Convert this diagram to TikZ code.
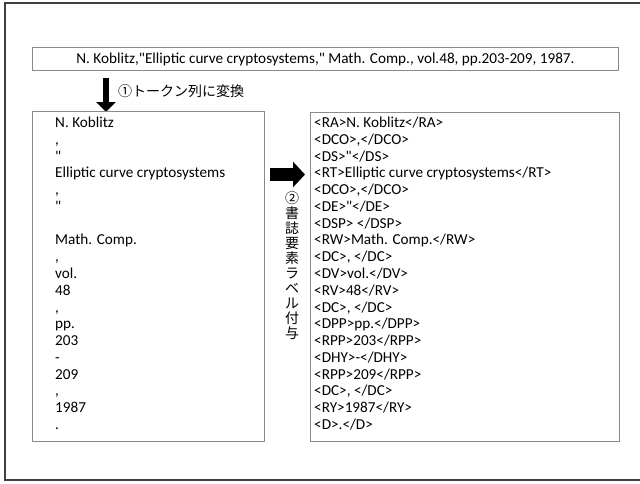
\documentclass[tikz,border=0pt]{standalone}
\usepackage{fontspec}
\setmainfont{Carlito}
\newfontfamily\carlito{Carlito}
\newfontfamily\jpfont{Noto Sans CJK JP}
\usetikzlibrary{arrows.meta}
\definecolor{boxgray}{HTML}{8A8A8A}
\definecolor{framegray}{HTML}{404040}
\begin{document}
\begin{tikzpicture}[x=1pt,y=-1pt,
  boxline/.style={draw=boxgray,line width=0.9pt},
  txt/.style={anchor=base west,inner sep=0pt,font=\carlito\fontsize{15.2}{17}\selectfont},
  jp/.style={inner sep=0pt,font=\jpfont\fontsize{14}{15}\selectfont},
  blockarrow/.style={line width=#1,-{Triangle[width=19pt,length=10pt]}}
]
\useasboundingbox (0,0) rectangle (640,483);
% outer frame (right side beyond the page)
\draw[framegray,line width=1.3pt] (641,3) -- (5,3) -- (5,480) -- (641,480);
% top reference box
\node[boxline,minimum width=586pt,minimum height=23pt,inner sep=0pt,anchor=north west,
      font=\carlito\fontsize{15.2}{17}\selectfont] (top) at (32,47)
  {N. Koblitz,"Elliptic curve cryptosystems," Math. Comp., vol.48, pp.203-209, 1987.};
% step 1 arrow and label
\coordinate (d1) at (106,78);
\coordinate (d2) at (106,112);
\draw[blockarrow=6.5pt] (d1) -- (d2);
\node[jp,anchor=west] (step1) at (118,91) {①トークン列に変換};
% left and right boxes
\node[boxline,minimum width=232pt,minimum height=330pt,inner sep=0pt,anchor=north west] (left) at (32,111) {};
\node[boxline,minimum width=309pt,minimum height=329pt,inner sep=0pt,anchor=north west] (right) at (310,112) {};
% step 2 arrow
\coordinate (h1) at (270,174.5);
\coordinate (h2) at (305,174.5);
\draw[-{Triangle[width=25pt,length=12pt]},line width=13pt] (h1) -- (h2);
\node[jp,align=center] (step2) at (292,266) {②\\書\\誌\\要\\素\\ラ\\ベ\\ル\\付\\与};
% left tokens
\node[txt] (l0) at (55,{127.5+16.78*0}) {N. Koblitz};
\node[txt] (l1) at (55,{127.5+16.78*1}) {,};
\node[txt] (l2) at (55,{127.5+16.78*2}) {"};
\node[txt] (l3) at (55,{127.5+16.78*3}) {Elliptic curve cryptosystems};
\node[txt] (l4) at (55,{127.5+16.78*4}) {,};
\node[txt] (l5) at (55,{127.5+16.78*5}) {"};
\node[txt] (l7) at (55,{127.5+16.78*7}) {Math. Comp.};
\node[txt] (l8) at (55,{127.5+16.78*8}) {,};
\node[txt] (l9) at (55,{127.5+16.78*9}) {vol.};
\node[txt] (l10) at (55,{127.5+16.78*10}) {48};
\node[txt] (l11) at (55,{127.5+16.78*11}) {,};
\node[txt] (l12) at (55,{127.5+16.78*12}) {pp.};
\node[txt] (l13) at (55,{127.5+16.78*13}) {203};
\node[txt] (l14) at (55,{127.5+16.78*14}) {-};
\node[txt] (l15) at (55,{127.5+16.78*15}) {209};
\node[txt] (l16) at (55,{127.5+16.78*16}) {,};
\node[txt] (l17) at (55,{127.5+16.78*17}) {1987};
\node[txt] (l18) at (55,{127.5+16.78*18}) {.};
% right labelled tokens
\node[txt] (r0) at (314,{127.5+16.78*0}) {<RA>N. Koblitz</RA>};
\node[txt] (r1) at (314,{127.5+16.78*1}) {<DCO>,</DCO>};
\node[txt] (r2) at (314,{127.5+16.78*2}) {<DS>"</DS>};
\node[txt] (r3) at (314,{127.5+16.78*3}) {<RT>Elliptic curve cryptosystems</RT>};
\node[txt] (r4) at (314,{127.5+16.78*4}) {<DCO>,</DCO>};
\node[txt] (r5) at (314,{127.5+16.78*5}) {<DE>"</DE>};
\node[txt] (r6) at (314,{127.5+16.78*6}) {<DSP> </DSP>};
\node[txt] (r7) at (314,{127.5+16.78*7}) {<RW>Math. Comp.</RW>};
\node[txt] (r8) at (314,{127.5+16.78*8}) {<DC>, </DC>};
\node[txt] (r9) at (314,{127.5+16.78*9}) {<DV>vol.</DV>};
\node[txt] (r10) at (314,{127.5+16.78*10}) {<RV>48</RV>};
\node[txt] (r11) at (314,{127.5+16.78*11}) {<DC>, </DC>};
\node[txt] (r12) at (314,{127.5+16.78*12}) {<DPP>pp.</DPP>};
\node[txt] (r13) at (314,{127.5+16.78*13}) {<RPP>203</RPP>};
\node[txt] (r14) at (314,{127.5+16.78*14}) {<DHY>-</DHY>};
\node[txt] (r15) at (314,{127.5+16.78*15}) {<RPP>209</RPP>};
\node[txt] (r16) at (314,{127.5+16.78*16}) {<DC>, </DC>};
\node[txt] (r17) at (314,{127.5+16.78*17}) {<RY>1987</RY>};
\node[txt] (r18) at (314,{127.5+16.78*18}) {<D>.</D>};
\end{tikzpicture}
\end{document}
